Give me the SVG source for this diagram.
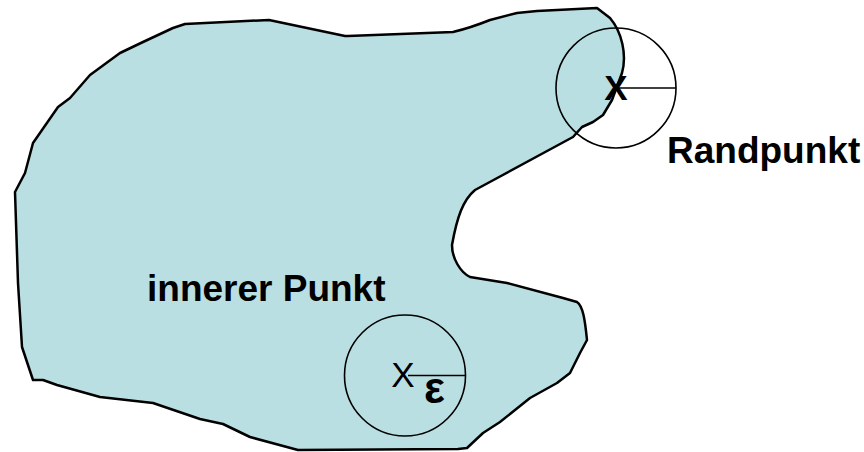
<svg xmlns="http://www.w3.org/2000/svg" width="864" height="452" viewBox="0 0 864 452">
<style>
.region{fill:#BADFE2;stroke:#000;stroke-width:2.5;stroke-linejoin:round}
.circ{fill:none;stroke:#000;stroke-width:1.6}
.lbl{font-family:"Liberation Sans",Arial,sans-serif;font-weight:bold;font-size:37px;fill:#000}
.pt{font-family:"Liberation Sans",Arial,sans-serif;font-size:35px;fill:#000;text-anchor:middle}
</style>
<rect width="864" height="452" fill="#fff"/>
<g id="region">
<path class="region" d="M15,192 L25,173 L33,143 L58,107 L70,98 L90,75 L120,53 L143,42 L173,28 L185,24 L269,20 L345,36 L348,36 L453,32 Q470,28 490,20 L517,13 L537,11 L597,8 L610,18 C622,32 627,55 622,73 L612,100 L603,115 L593,122 L582,127 L573,137 L475,190 C463,200 457,217 452,245 C452,258 460,272 470,277 L507,283 L563,298 L577,302 C583,306 585,320 587,340 L580,353 L570,373 L557,383 L530,398 L500,422 L483,433 L467,448 L458,449 L298,450 L250,437 L223,424 L200,419 L153,403 L100,397 L57,385 L43,380 L33,380 L22,347 L18,283 Z"/>
</g>
<g id="boundary-point">
<circle class="circ" cx="616" cy="88" r="60"/>
<line class="circ" x1="617" y1="88" x2="676" y2="88"/>
<text class="pt" x="616" y="100" font-weight="bold">X</text>
</g>
<g id="inner-point">
<circle class="circ" cx="405" cy="375.5" r="60.5"/>
<line class="circ" x1="408" y1="375.5" x2="465.5" y2="375.5"/>
<text class="pt" x="403" y="387">X</text>
<text x="424" y="403" font-family="Liberation Sans,Arial,sans-serif" font-size="44" font-weight="bold">ε</text>
</g>
<g id="labels">
<text class="lbl" x="667" y="163">Randpunkt</text>
<text class="lbl" x="147" y="301">innerer Punkt</text>
</g>
</svg>
